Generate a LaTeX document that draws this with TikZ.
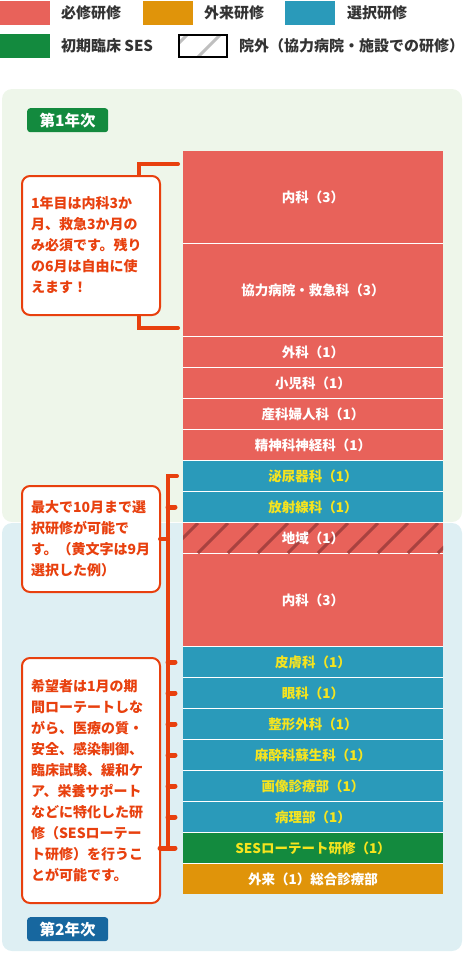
\documentclass[tikz,border=0pt]{standalone}
\usepackage{fontspec}
\setmainfont{Noto Sans CJK JP}
\usepackage{tikz}
\usetikzlibrary{positioning,calc}
\definecolor{reqred}{HTML}{E8625A}
\definecolor{selblue}{HTML}{2A9ABA}
\definecolor{sesgreen}{HTML}{138A3E}
\definecolor{opdorange}{HTML}{E0940A}
\definecolor{hatchred}{HTML}{A84240}
\definecolor{selyellow}{HTML}{F6E41E}
\definecolor{notered}{HTML}{E8400E}
\definecolor{yearonebg}{HTML}{EEF6EA}
\definecolor{yeartwobg}{HTML}{DEEFF3}
\definecolor{badgeblue}{HTML}{17679F}
\definecolor{legendgray}{HTML}{333333}
\tikzset{
  ward/.style={minimum width=260pt, minimum height=30pt, inner sep=0pt, outer sep=0pt, font=\fontsize{13.5}{16}\selectfont\bfseries},
  tall/.style={minimum height=92pt},
  req/.style={ward, fill=reqred, text=white},
  sel/.style={ward, fill=selblue, text=selyellow},
  ses/.style={ward, fill=sesgreen, text=selyellow},
  opd/.style={ward, fill=opdorange, text=white},
  hatch/.style={draw=hatchred, line width=3pt},
  note/.style={draw=notered, line width=2pt, rounded corners=8pt, fill=white, text=notered, align=left, text width=120pt, inner xsep=9pt, inner ysep=0pt, outer sep=0pt, anchor=north west, font=\fontsize{14}{21}\selectfont\bfseries},
  bracket/.style={draw=notered, line width=4pt, line cap=round},
  tick/.style={draw=notered, line width=5pt, line cap=round},
  badge/.style={anchor=north west, minimum width=81pt, minimum height=24pt, rounded corners=3pt, inner sep=0pt, text=white, font=\fontsize{15.5}{18}\selectfont\bfseries},
  swatch/.style={anchor=north west, minimum width=50pt, minimum height=24pt, inner sep=0pt, outer sep=0pt},
  keylabel/.style={inner sep=0pt, outer sep=0pt, text=legendgray, font=\fontsize{15}{18}\selectfont\bfseries}
}
\begin{document}
\begin{tikzpicture}[x=1pt, y=-1pt, node distance=1pt]
\useasboundingbox (0,0) rectangle (465,953);
% legend
\node[swatch, fill=reqred] (keyReq) at (0,1) {};
\node[keylabel, right=11pt of keyReq] {必修研修};
\node[swatch, fill=opdorange] (keyOpd) at (143,1) {};
\node[keylabel, right=11pt of keyOpd] {外来研修};
\node[swatch, fill=selblue] (keySel) at (285,1) {};
\node[keylabel, right=12pt of keySel] {選択研修};
\node[swatch, fill=sesgreen] (keySes) at (0,34) {};
\node[keylabel, right=11pt of keySes] {初期臨床 SES};
\node[swatch, minimum width=48pt, minimum height=22pt, draw=black, line width=2pt, fill=white,
  path picture={
    \draw[black!25, line width=3pt] ([xshift=-14pt]path picture bounding box.south west) -- ++(24,-24);
    \draw[black!25, line width=3pt] ([xshift=19pt]path picture bounding box.south west) -- ++(24,-24);
  }] (keyExt) at (179,35) {};
\node[keylabel, right=12pt of keyExt] {院外（協力病院・施設での研修）};

% year panels
\fill[yearonebg, rounded corners=10pt] (2,89) rectangle (462,522);
\fill[yeartwobg, rounded corners=10pt] (2,523) rectangle (462,951);
\node[badge, fill=sesgreen] (yearOne) at (27,108) {第1年次};
\node[badge, fill=badgeblue] (yearTwo) at (27,917) {第2年次};

% rotation column (white shows through as row separators)
\fill[white] (183,151) rectangle (443,894);
\node[req, tall, anchor=north west] (med1) at (183,151) {内科（3）};
\node[req, tall, below=of med1] (coop) {協力病院・救急科（3）};
\node[req, below=of coop] (surg) {外科（1）};
\node[req, below=of surg] (ped) {小児科（1）};
\node[req, below=of ped] (obgy) {産科婦人科（1）};
\node[req, below=of obgy] (psy) {精神科神経科（1）};
\node[sel, below=of psy] (uro) {泌尿器科（1）};
\node[sel, below=of uro] (rad) {放射線科（1）};
\node[req, below=of rad,
  path picture={
    \foreach \k in {0,...,9}
      \draw[hatch] ([xshift=-15pt+30pt*\k]path picture bounding box.south west) -- ++(30,-30);
  }] (comm) {地域（1）};
\node[req, tall, below=of comm] (med2) {内科（3）};
\node[sel, below=of med2] (derm) {皮膚科（1）};
\node[sel, below=of derm] (eye) {眼科（1）};
\node[sel, below=of eye] (ortho) {整形外科（1）};
\node[sel, below=of ortho] (anes) {麻酔科蘇生科（1）};
\node[sel, below=of anes] (img) {画像診療部（1）};
\node[sel, below=of img] (patho) {病理部（1）};
\node[ses, below=of patho] (sesrot) {SESローテート研修（1）};
\node[opd, below=of sesrot] (gp) {外来（1）総合診療部};

% brackets
\coordinate (b1top) at (139,164);
\coordinate (b1bot) at (139,328);
\coordinate (spine) at (168,0);
\draw[bracket] ([xshift=-5pt]med1.west |- b1top) -- (b1top) -- (b1bot) -- ([xshift=-5pt]coop.west |- b1bot);
\draw[bracket] ([xshift=-6pt]uro.west) -| (spine |- sesrot.west);
\foreach \row in {rad,derm,eye,ortho,anes,img,patho}
  \draw[tick] (spine |- \row.west) -- ([xshift=-8pt]\row.west);

% notes
\node[note, minimum height=139pt] (note1) at (22,176) {1年目は内科3か\\月、救急3か月の\\み必須です。残り\\の6月は自由に使\\えます！};
\node[note, minimum height=106pt] (note2) at (22,486) {最大で10月まで選\\択研修が可能で\\す。（黄文字は9月\\選択した例）};
\node[note, minimum height=245pt] (note3) at (22,658) {希望者は1月の期\\間ローテートしな\\がら、医療の質・\\安全、感染制御、\\臨床試験、緩和ケ\\ア、栄養サポート\\などに特化した研\\修（SESローテー\\ト研修）を行うこ\\とが可能です。};
\draw[bracket] (note2.east) -- (note2.east -| spine);
\draw[tick] (note3.east |- sesrot.west) -- ([xshift=-8pt]sesrot.west);
\end{tikzpicture}
\end{document}
